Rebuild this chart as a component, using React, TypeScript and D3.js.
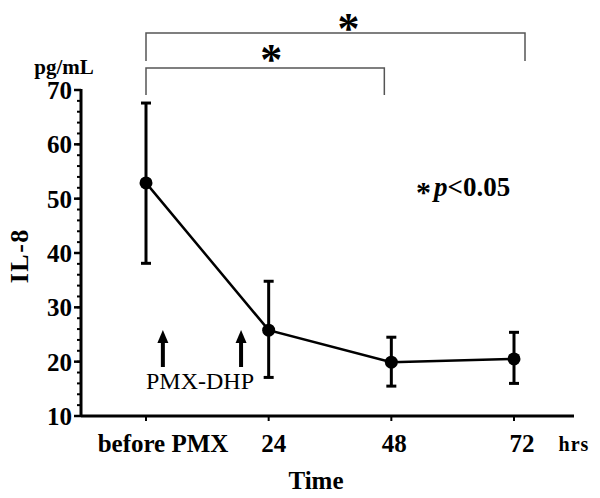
import React from "react";
import * as d3 from "d3";

const categories = ["before PMX", "24", "48", "72"];
const hours = [0, 24, 48, 72];
const means = [52.9, 25.8, 19.9, 20.5];
const upper = [67.6, 34.8, 24.5, 25.4];
const lower = [38.1, 17.1, 15.5, 16.0];
const yTicks = [10, 20, 30, 40, 50, 60, 70];
const arrowHours = [3.3, 18.6];
const comparisons = [
  { from: 0, to: 48, label: "*" },
  { from: 0, to: 72, label: "*" },
];

const W = 600;
const H = 498;
const serif = "'Liberation Serif', 'Times New Roman', serif";

export default function App() {
  const x = d3.scaleLinear().domain([0, 72]).range([146, 514]);
  const y = d3.scaleLinear().domain([10, 70]).range([416, 90]);
  const minor = d3.range(10, 70.001, 2);
  const axisX = 81;
  const line = d3
    .line<number>()
    .x((_, i) => x(hours[i]))
    .y((d) => y(d));
  const labelDx = [17, 5, 3, 8];
  const bracketLevels = [
    { top: 68, drop: 95, starY: 53 },
    { top: 33, drop: 61, starY: 22 },
  ];

  return (
    <svg width={W} height={H} style={{ display: "block", position: "absolute", left: 0, top: 0 }} fontFamily={serif}>
      <rect width={W} height={H} fill="#fff" />
      {/* y axis */}
      <line x1={axisX} x2={axisX} y1={y(70) - 1} y2={y(10) + 1} stroke="#000" strokeWidth={3} />
      {minor.map((v) => (
        <line key={"m" + v} x1={axisX - 4} x2={axisX} y1={y(v)} y2={y(v)} stroke="#000" strokeWidth={2} />
      ))}
      {yTicks.map((v) => (
        <g key={"t" + v}>
          <line x1={axisX - 7} x2={axisX} y1={y(v)} y2={y(v)} stroke="#000" strokeWidth={2.5} />
          <text x={axisX - 9} y={y(v)} dy="0.36em" textAnchor="end" fontSize={25} fontWeight="bold">
            {v}
          </text>
        </g>
      ))}
      {/* x axis */}
      <line x1={axisX} x2={574} y1={y(10)} y2={y(10)} stroke="#000" strokeWidth={3} />
      {hours.map((h, i) => (
        <g key={"x" + h}>
          <line x1={x(h)} x2={x(h)} y1={y(10)} y2={y(10) + 5} stroke="#000" strokeWidth={2} />
          <text x={x(h) + labelDx[i]} y={452} textAnchor="middle" fontSize={25} fontWeight="bold">
            {categories[i]}
          </text>
        </g>
      ))}
      <text x={574} y={451} textAnchor="middle" fontSize={20} fontWeight="bold" letterSpacing={1}>
        hrs
      </text>
      <text x={316} y={489} textAnchor="middle" fontSize={25} fontWeight="bold">
        Time
      </text>
      <text
        transform={`translate(28,${y(39.5)}) rotate(-90)`}
        textAnchor="middle"
        fontSize={26}
        fontWeight="bold"
        letterSpacing={1.5}
      >
        IL-8
      </text>
      <text x={64} y={74} textAnchor="middle" fontSize={21} fontWeight="bold">
        pg/mL
      </text>
      {/* brackets */}
      {comparisons.map((c, i) => {
        const b = bracketLevels[i];
        const x1 = x(c.from);
        const x2 = x(c.to) + (c.to === 72 ? 11 : -7);
        return (
          <g key={"b" + i}>
            <path
              d={`M${x1},${b.drop}V${b.top}H${x2}V${b.drop}`}
              fill="none"
              stroke="#555"
              strokeWidth={1.5}
            />
            <text x={(x1 + x2) / 2 + (i === 0 ? 6 : 13)} y={b.starY + 21} textAnchor="middle" fontSize={44} fontWeight="bold">
              {c.label}
            </text>
          </g>
        );
      })}
      {/* significance legend */}
      <text x={416} y={196} fontSize={27} fontWeight="bold">
        <tspan fontSize={30} dy={6}>*</tspan>
        <tspan fontStyle="italic" dy={-6} dx={3}>p</tspan>
        <tspan>{"<0.05"}</tspan>
      </text>
      {/* arrows */}
      {arrowHours.map((h) => (
        <g key={"a" + h}>
          <line x1={x(h)} x2={x(h)} y1={367} y2={341} stroke="#000" strokeWidth={4} />
          <path d={`M${x(h) - 5.5},${343}L${x(h)},${330}L${x(h) + 5.5},${343}Z`} fill="#000" />
        </g>
      ))}
      <text x={200} y={389} textAnchor="middle" fontSize={24}>
        PMX-DHP
      </text>
      {/* error bars */}
      {hours.map((h, i) => (
        <g key={"e" + h} stroke="#000">
          <line x1={x(h)} x2={x(h)} y1={y(upper[i])} y2={y(lower[i])} strokeWidth={3} />
          <line x1={x(h) - 5} x2={x(h) + 5} y1={y(upper[i])} y2={y(upper[i])} strokeWidth={3} />
          <line x1={x(h) - 5} x2={x(h) + 5} y1={y(lower[i])} y2={y(lower[i])} strokeWidth={3} />
        </g>
      ))}
      <path d={line(means) || ""} fill="none" stroke="#000" strokeWidth={2.5} />
      {hours.map((h, i) => (
        <circle key={"c" + h} cx={x(h)} cy={y(means[i])} r={6.5} fill="#000" />
      ))}
    </svg>
  );
}
